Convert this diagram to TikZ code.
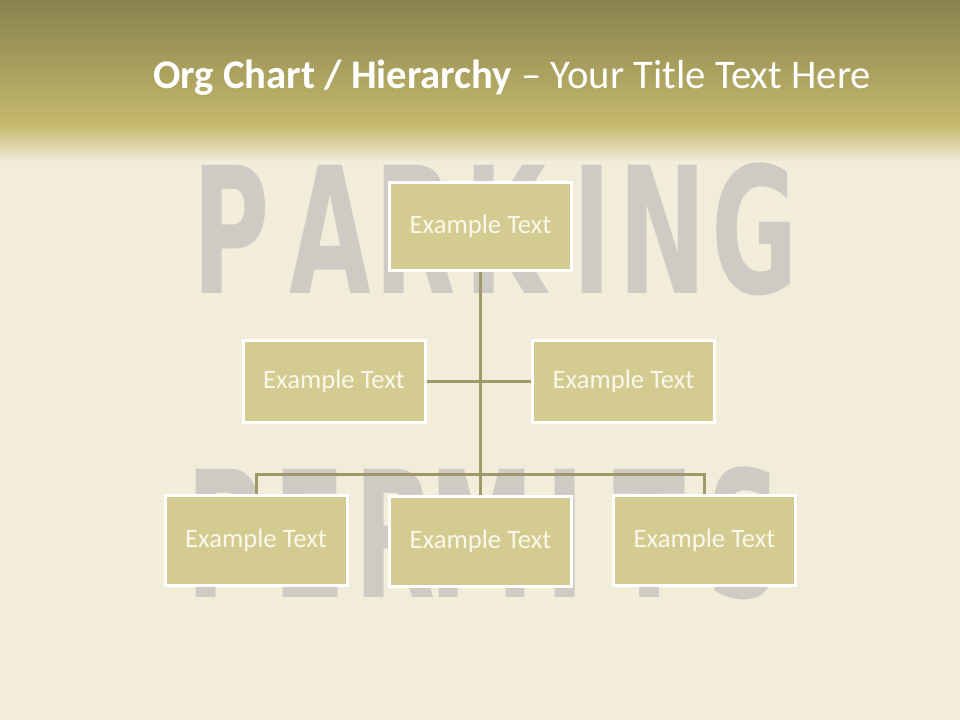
\documentclass[tikz,border=0pt]{standalone}
\usepackage{fontspec}
\setmainfont{Carlito}
\newfontfamily\stencilfont{DejaVu Sans}
\usetikzlibrary{backgrounds}
\definecolor{BandTop}{HTML}{88824E}
\definecolor{BandLow}{HTML}{C5B96C}
\definecolor{Paper}{HTML}{F1EDDA}
\definecolor{StencilGray}{HTML}{CDCBC3}
\definecolor{BoxFill}{HTML}{D3CB8F}
\definecolor{LineOlive}{HTML}{A09868}
\definecolor{BoxText}{HTML}{FAF8EC}

\begin{document}
\begin{tikzpicture}[
  x=0.75pt, y=-0.75pt,
  box/.style={draw=white, line width=2.25pt, fill=BoxFill, inner sep=0pt,
    minimum width=136.5pt, minimum height=66pt,
    font=\fontsize{20}{24}\selectfont, text=BoxText},
  midbox/.style={box, minimum height=61.5pt},
  conn/.style={draw=LineOlive, line width=2.25pt},
  stencil/.style={inner sep=0pt, text=StencilGray,
    font=\stencilfont\bfseries\fontsize{132}{132}\selectfont},
  heading/.style={text=white, inner sep=0pt, font=\fontsize{30.5}{36}\selectfont},
]
  \useasboundingbox (0,0) rectangle (960,720);
  % Backdrop
  \begin{scope}[on background layer]
  \fill[top color=BandTop, bottom color=BandLow] (0,0) rectangle (960,126);
  \fill[top color=BandLow, bottom color=Paper] (0,125) rectangle (960,162);
  \fill[Paper] (0,161) rectangle (960,720);
  % Stencil lettering
  \foreach \ch/\xx in {P/231, A/330, R/415, K/505, I/592, N/663, G/755}
    \node[stencil] at (\xx,229) {\scalebox{0.6}[1]{\ch}};
  \foreach \ch/\xx in {P/225, E/310, R/395, M/482, I/565, T/650, S/745}
    \node[stencil] at (\xx,533) {\scalebox{0.6}[1]{\ch}};
  \end{scope}
  % Title
  \node[heading, anchor=base west] (title) at (153,89)
    {\textbf{Org Chart / Hierarchy} -- Your Title Text Here};
  % Boxes
  \coordinate (fork) at (480.5,474);
  \node[box] (top) at (480.5,226.5) {Example Text};
  \node[midbox] (midL) at (334,381.5) {Example Text};
  \node[midbox] (midR) at (623.5,381.5) {Example Text};
  \node[box, minimum height=67.5pt] (botL) at (256,540.5) {Example Text};
  \node[box, minimum height=67.5pt] (botM) at (480.5,541.5) {Example Text};
  \node[box, minimum height=67.5pt] (botR) at (704.5,540.5) {Example Text};
  % Connectors
  \begin{scope}[on background layer]
  \draw[conn] (top.south) -- (botM.north);
  \draw[conn] (midL.east) -- (midR.west);
  \draw[conn] (botL.north) |- (fork) -| (botR.north);
  \end{scope}
\end{tikzpicture}
\end{document}
